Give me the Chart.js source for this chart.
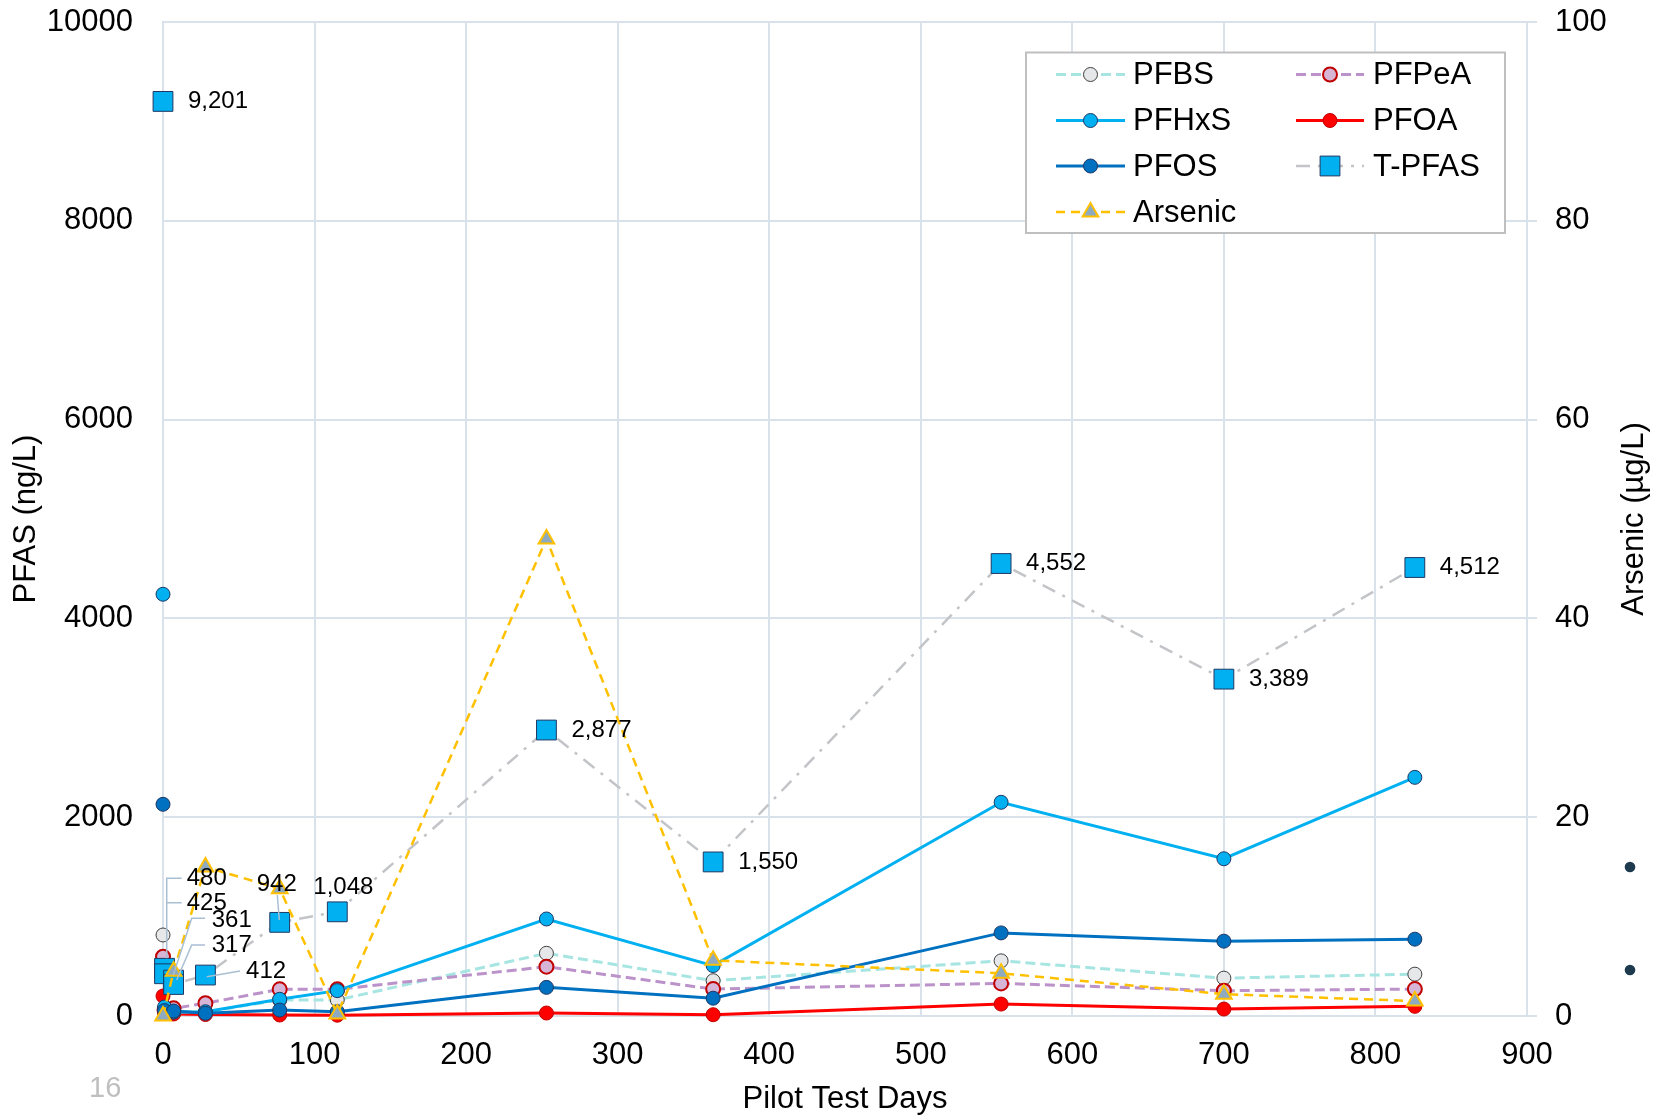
<!DOCTYPE html>
<html>
<head>
<meta charset="utf-8">
<script src="https://cdn.jsdelivr.net/npm/chart.js@4.4.1/dist/chart.umd.min.js"></script>
<style>
  html, body { margin: 0; padding: 0; background: #ffffff; }
  #wrap { position: relative; width: 1655px; height: 1116px; }
</style>
</head>
<body>
<div id="wrap"><canvas id="c" width="1655" height="1116"></canvas></div>
<script>
// ---------------- DATA ----------------
const pfasDays = [0, 1, 7, 28, 77, 115, 253, 363, 553, 700, 826];
const pfbs   = [815, 50, 40, 40, 160, 161, 631, 355, 555, 381, 421];
const pfpea  = [597, 60, 77, 128, 268, 268, 496, 271, 328, 254, 271];
const pfhxs  = [4243, 90, 40, 43, 168, 255, 976, 507, 2150, 1582, 2401];
const pfoa   = [201, 25, 20, 15, 10, 8, 30, 13, 120, 70, 97];
const pfos   = [2130, 55, 50, 27, 60, 44, 288, 179, 836, 753, 773];

const tpfasDays = [0, 1, 1, 7, 7, 28, 77, 115, 253, 363, 553, 700, 826];
const tpfas     = [9201, 480, 425, 361, 317, 412, 942, 1048, 2877, 1550, 4552, 3389, 4512];

const arsenicDays = [0, 7, 28, 77, 115, 253, 363, 553, 700, 826];
const arsenic     = [0, 4.5, 15, 12.8, 0.2, 48, 5.6, 4.3, 2.2, 1.5];

const xTicks       = [0, 100, 200, 300, 400, 500, 600, 700, 800, 900];
const pfasTicks    = [0, 2000, 4000, 6000, 8000, 10000];
const arsenicTicks = [0, 20, 40, 60, 80, 100];

const seriesNames = ['PFBS', 'PFPeA', 'PFHxS', 'PFOA', 'PFOS', 'T-PFAS', 'Arsenic'];
const axisTitles = { x: 'Pilot Test Days', y: 'PFAS (ng/L)', y2: 'Arsenic (\u00b5g/L)' };
const slideNumber = '16';

// ---------------- STYLE ----------------
const FONT = '"Liberation Sans", Arial, Helvetica, sans-serif';
const gridColor = '#d9e2eb';
Chart.defaults.font.family = FONT;
Chart.defaults.color = '#000000';

const pts = (xs, ys) => xs.map((x, i) => ({ x: x, y: ys[i] }));
const hideFirst = { borderColor: ctx => (ctx.p0DataIndex === 0 ? 'rgba(0,0,0,0)' : undefined) };
const noPad = s => { s.paddingTop = 0; s.paddingBottom = 0; };

// label placement (pixel offsets relative to the marker, styling only)
const labelStyle = {
  default: { dx: 25, dy: 0 },
  1: { dx: 22.2, dy: -89.6, leader: [[17.2, -90], [2.2, -90], [2.2, -10]] },
  2: { dx: 22.2, dy: -70.8, leader: [[17.2, -71], [2.2, -71]] },
  3: { dx: 38.1, dy: -59.8, leader: [[31.4, -61.8], [18.1, -61.8], [-0.3, -5]] },
  4: { dx: 38.1, dy: -38.7, leader: [[31.4, -39.5], [18.1, -39.5], [3.1, -4.5]] },
  5: { dx: 40.6, dy: -4, leader: [[34.6, -4], [1.3, 1.7]] },
  6: { dx: -23, dy: -38.4, leader: [[-2.4, -27.4], [-0.4, -2.4]] },
  7: { dx: -24, dy: -24.8 }
};

const datasets = [
  { label: seriesNames[0], data: pts(pfasDays, pfbs), yAxisID: 'y', order: 5,
    borderColor: '#a6e5e1', borderWidth: 3, borderDash: [10, 5],
    pointStyle: 'circle', pointRadius: 7, pointBackgroundColor: '#e6e7e8',
    pointBorderColor: '#3f3f3f', pointBorderWidth: 1, segment: hideFirst },
  { label: seriesNames[1], data: pts(pfasDays, pfpea), yAxisID: 'y', order: 4,
    borderColor: '#bb92c9', borderWidth: 3, borderDash: [10, 5],
    pointStyle: 'circle', pointRadius: 7, pointBackgroundColor: '#d7b5d6',
    pointBorderColor: '#c00000', pointBorderWidth: 2, segment: hideFirst },
  { label: seriesNames[2], data: pts(pfasDays, pfhxs), yAxisID: 'y', order: 3,
    borderColor: '#00b0f0', borderWidth: 3,
    pointStyle: 'circle', pointRadius: 7, pointBackgroundColor: '#00b0f0',
    pointBorderColor: '#1f3864', pointBorderWidth: 1, segment: hideFirst },
  { label: seriesNames[3], data: pts(pfasDays, pfoa), yAxisID: 'y', order: 6,
    borderColor: '#ff0000', borderWidth: 3,
    pointStyle: 'circle', pointRadius: 7, pointBackgroundColor: '#ff0000',
    pointBorderColor: '#c00000', pointBorderWidth: 1, segment: hideFirst },
  { label: seriesNames[4], data: pts(pfasDays, pfos), yAxisID: 'y', order: 2,
    borderColor: '#0070c0', borderWidth: 3,
    pointStyle: 'circle', pointRadius: 7, pointBackgroundColor: '#0070c0',
    pointBorderColor: '#1f3864', pointBorderWidth: 1, segment: hideFirst },
  { label: seriesNames[5], data: pts(tpfasDays, tpfas), yAxisID: 'y', order: 1,
    borderColor: '#c3c4c8', borderWidth: 2.5, borderDash: [14, 8, 3, 8],
    pointStyle: 'rect', pointRadius: 14, pointBackgroundColor: '#00b0f0',
    pointBorderColor: '#1f3864', pointBorderWidth: 1, segment: hideFirst },
  { label: seriesNames[6], data: pts(arsenicDays, arsenic), yAxisID: 'y2', order: 0,
    borderColor: '#ffc000', borderWidth: 2.5, borderDash: [9, 6],
    pointStyle: 'triangle', pointRadius: 9, pointBackgroundColor: '#8eaac1',
    pointBorderColor: '#ffc000', pointBorderWidth: 2 }
];
datasets.forEach(d => { d.clip = false; d.tension = 0; d.fill = false; });

const decorPlugin = {
  id: 'decor',
  afterDatasetsDraw(chart) {
    const ctx = chart.ctx;
    const dsIndex = 5;
    const meta = chart.getDatasetMeta(dsIndex);
    ctx.save();
    ctx.font = '24px ' + FONT;
    ctx.textBaseline = 'middle';
    ctx.textAlign = 'left';
    meta.data.forEach((el, i) => {
      const st = labelStyle[i] || labelStyle.default;
      if (st.leader) {
        ctx.strokeStyle = '#a9bfd3';
        ctx.lineWidth = 1.5;
        ctx.setLineDash([]);
        ctx.beginPath();
        st.leader.forEach((p, k) => {
          const px = el.x + p[0], py = el.y + p[1];
          if (k === 0) ctx.moveTo(px, py); else ctx.lineTo(px, py);
        });
        ctx.stroke();
      }
      ctx.fillStyle = '#000000';
      ctx.fillText(tpfas[i].toLocaleString('en-US'), el.x + st.dx, el.y + st.dy);
    });
    ctx.restore();
  },
  afterDraw(chart) {
    const ctx = chart.ctx;
    const ca = chart.chartArea;
    ctx.save();
    ctx.fillStyle = '#000000';
    ctx.font = '31px ' + FONT;
    ctx.textAlign = 'center';
    ctx.textBaseline = 'middle';
    const cy = (ca.top + ca.bottom) / 2;
    ctx.fillText(axisTitles.x, (ca.left + ca.right) / 2, 1099);
    ctx.save(); ctx.translate(26, cy); ctx.rotate(-Math.PI / 2); ctx.fillText(axisTitles.y, 0, 0); ctx.restore();
    ctx.save(); ctx.translate(1634, cy); ctx.rotate(-Math.PI / 2); ctx.fillText(axisTitles.y2, 0, 0); ctx.restore();

    const box = { l: 1026, t: 52.5, r: 1505, b: 233 };
    ctx.fillStyle = '#ffffff';
    ctx.fillRect(box.l, box.t, box.r - box.l, box.b - box.t);
    ctx.strokeStyle = '#bfbfbf';
    ctx.lineWidth = 2;
    ctx.strokeRect(box.l, box.t, box.r - box.l, box.b - box.t);
    const cols = [{ x0: 1056, x1: 1125, m: 1090.5, t: 1133 }, { x0: 1296, x1: 1364, m: 1330, t: 1373 }];
    const rows = [74.5, 120.5, 166, 212];
    chart.data.datasets.forEach((ds, i) => {
      const c = cols[i % 2], y = rows[Math.floor(i / 2)];
      ctx.setLineDash(ds.borderDash || []);
      ctx.strokeStyle = ds.borderColor;
      ctx.lineWidth = ds.borderWidth;
      ctx.beginPath(); ctx.moveTo(c.x0, y); ctx.lineTo(c.x1, y); ctx.stroke();
      ctx.setLineDash([]);
      ctx.fillStyle = ds.pointBackgroundColor;
      ctx.strokeStyle = ds.pointBorderColor;
      ctx.lineWidth = ds.pointBorderWidth;
      Chart.helpers.drawPoint(ctx, { pointStyle: ds.pointStyle, radius: ds.pointRadius, rotation: 0, borderWidth: ds.pointBorderWidth }, c.m, y);
      ctx.fillStyle = '#000000';
      ctx.font = '31px ' + FONT;
      ctx.textAlign = 'left';
      ctx.textBaseline = 'middle';
      ctx.fillText(ds.label, c.t, y + 1);
    });

    ctx.fillStyle = '#bfbfbf';
    ctx.font = '29px ' + FONT;
    ctx.textAlign = 'left';
    ctx.fillText(slideNumber, 89, 1089);
    ctx.fillStyle = '#1e3a4f';
    [867, 970].forEach(by => { ctx.beginPath(); ctx.arc(1630, by, 5.3, 0, Math.PI * 2); ctx.fill(); });
    ctx.restore();
  }
};

const tickFont = { size: 31, family: FONT };

new Chart(document.getElementById('c'), {
  type: 'line',
  data: { datasets: datasets },
  options: {
    responsive: false,
    animation: false,
    devicePixelRatio: 1,
    events: [],
    layout: { padding: { top: 22, left: 0, right: 0, bottom: 0 } },
    plugins: { legend: { display: false }, tooltip: { enabled: false } },
    scales: {
      x: {
        type: 'linear', position: 'bottom', min: 0, max: 900,
        afterBuildTicks: s => { s.ticks = xTicks.map(v => ({ value: v })); },
        afterFit: s => { s.height = 100; s.paddingLeft = 0; s.paddingRight = 0; },
        grid: { color: gridColor, lineWidth: 2, drawTicks: false },
        border: { display: true, color: gridColor, width: 2 },
        ticks: { font: tickFont, color: '#000000', padding: 21, maxRotation: 0, autoSkip: false, callback: v => String(v) }
      },
      y: {
        type: 'linear', position: 'left', min: 0, max: 10000,
        afterBuildTicks: s => { s.ticks = pfasTicks.map(v => ({ value: v })); },
        afterFit: s => { s.width = 163; noPad(s); },
        grid: { color: gridColor, lineWidth: 2, drawTicks: false },
        border: { display: true, color: gridColor, width: 2 },
        ticks: { font: tickFont, color: '#000000', padding: 30, callback: v => String(v) }
      },
      y2: {
        type: 'linear', position: 'right', min: 0, max: 100,
        afterBuildTicks: s => { s.ticks = arsenicTicks.map(v => ({ value: v })); },
        afterFit: s => { s.width = 128; noPad(s); },
        grid: { color: gridColor, lineWidth: 2, drawOnChartArea: false, drawTicks: true, tickLength: 10 },
        border: { display: false },
        ticks: { font: tickFont, color: '#000000', padding: 18, callback: v => String(v) }
      }
    }
  },
  plugins: [decorPlugin]
});
</script>
</body>
</html>
